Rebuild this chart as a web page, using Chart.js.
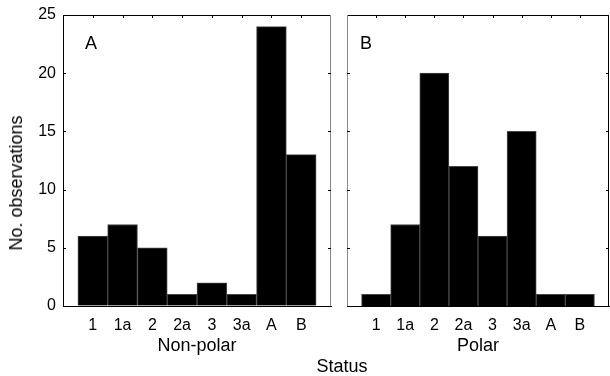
<!DOCTYPE html>
<html>
<head>
<meta charset="utf-8">
<script src="https://cdn.jsdelivr.net/npm/chart.js@4/dist/chart.umd.min.js"></script>
<style>
  html, body { margin: 0; padding: 0; background: #fff; }
  #wrap { position: relative; width: 610px; height: 376px; overflow: hidden; font-family: 'Liberation Sans', Arial, sans-serif; color: #000; }
  canvas { position: absolute; top: 0; }
  .lbl { position: absolute; font-size: 18px; line-height: 18px; white-space: nowrap; }
</style>
</head>
<body>
<div id="wrap">
  <canvas id="c1" width="340" height="376" style="left:0;width:340px;height:376px"></canvas>
  <canvas id="c2" width="270" height="376" style="left:340px;width:270px;height:376px"></canvas>
  <div class="lbl" id="ytitle" style="left:16px;top:183px;transform:translate(-50%,-50%) rotate(-90deg);">No. observations</div>
  <div class="lbl" style="left:342px;top:366px;transform:translate(-50%,-50%);">Status</div>
  <div class="lbl" style="left:91px;top:43px;transform:translate(-50%,-50%);">A</div>
  <div class="lbl" style="left:366px;top:43px;transform:translate(-50%,-50%);">B</div>
</div>
<script>
const categories = ['1', '1a', '2', '2a', '3', '3a', 'A', 'B'];
const nonPolar = [6, 7, 5, 1, 2, 1, 24, 13];
const polar = [1, 7, 20, 12, 6, 15, 1, 1];
const yTicks = [0, 5, 10, 15, 20, 25];
const panelTitles = ['Non-polar', 'Polar'];

const FONT = "'Liberation Sans', Arial, sans-serif";

function framePlugin(sideColors) {
  return {
    id: 'frame',
    afterDraw(chart) {
      const ctx = chart.ctx;
      const a = chart.chartArea;
      const xs = chart.scales.x, ys = chart.scales.y;
      ctx.save();
      ctx.lineWidth = 1;
      ctx.strokeStyle = sideColors.top;
      ctx.beginPath(); ctx.moveTo(a.left, a.top + 0.5); ctx.lineTo(a.right, a.top + 0.5); ctx.stroke();
      if (sideColors.right) {
        ctx.strokeStyle = sideColors.right;
        ctx.beginPath(); ctx.moveTo(a.right - 0.5, a.top); ctx.lineTo(a.right - 0.5, a.bottom); ctx.stroke();
      }
      if (sideColors.left) {
        ctx.strokeStyle = sideColors.left;
        ctx.beginPath(); ctx.moveTo(a.left + 0.5, a.top); ctx.lineTo(a.left + 0.5, a.bottom); ctx.stroke();
      }
      ctx.strokeStyle = '#000';
      const tl = 3;
      yTicks.forEach(v => {
        if (v === yTicks[0] || v === yTicks[yTicks.length - 1]) return;
        const y = Math.round(ys.getPixelForValue(v)) + 0.5;
        ctx.beginPath(); ctx.moveTo(a.left, y); ctx.lineTo(a.left + tl, y); ctx.stroke();
        ctx.beginPath(); ctx.moveTo(a.right, y); ctx.lineTo(a.right - tl, y); ctx.stroke();
      });
      categories.forEach((c, i) => {
        const x = Math.round(xs.getPixelForValue(i + 1)) + 0.5;
        ctx.beginPath(); ctx.moveTo(x, a.top); ctx.lineTo(x, a.top + tl); ctx.stroke();
      });
      ctx.restore();
    }
  };
}

function makeChart(id, values, title, showY, padding, sideColors) {
  return new Chart(document.getElementById(id), {
    type: 'bar',
    data: {
      datasets: [{
        data: values.map((v, i) => ({ x: i + 1, y: v })),
        backgroundColor: '#000',
        borderColor: '#484848',
        borderWidth: 1,
        barPercentage: 1,
        categoryPercentage: 1
      }]
    },
    options: {
      responsive: false,
      animation: false,
      devicePixelRatio: 1,
      layout: { padding: padding },
      plugins: { legend: { display: false }, tooltip: { enabled: false } },
      scales: {
        x: {
          type: 'linear',
          offset: false,
          min: 0,
          max: categories.length + 1,
          afterFit: s => { s.height = 70; s.paddingLeft = 0; s.paddingRight = 0; },
          grid: { drawOnChartArea: false, drawTicks: false },
          border: { display: true, color: '#000', width: 1 },
          ticks: {
            stepSize: 1,
            autoSkip: false,
            maxRotation: 0,
            minRotation: 0,
            padding: 10,
            color: '#000',
            font: { family: FONT, size: 16 },
            callback: v => (v >= 1 && v <= categories.length) ? categories[v - 1] : ''
          },
          title: {
            display: true,
            text: title,
            color: '#000',
            font: { family: FONT, size: 18 },
            padding: { top: 0, bottom: 19 }
          }
        },
        y: {
          display: showY,
          min: yTicks[0],
          max: yTicks[yTicks.length - 1],
          afterFit: s => { s.width = showY ? 63 : 0; s.paddingTop = 0; s.paddingBottom = 0; },
          grid: { drawOnChartArea: false, drawTicks: false },
          border: { display: true, color: '#000', width: 1 },
          ticks: {
            stepSize: 5,
            padding: 7,
            color: '#000',
            font: { family: FONT, size: 16 }
          }
        }
      }
    },
    plugins: [framePlugin(sideColors)]
  });
}

makeChart('c1', nonPolar, panelTitles[0], true, { top: 15, right: 9, left: 0, bottom: 0 }, { top: '#000', right: '#888' });
makeChart('c2', polar, panelTitles[1], false, { top: 15, right: 1, left: 7, bottom: 0 }, { top: '#000', right: '#000', left: '#888' });
</script>
</body>
</html>
